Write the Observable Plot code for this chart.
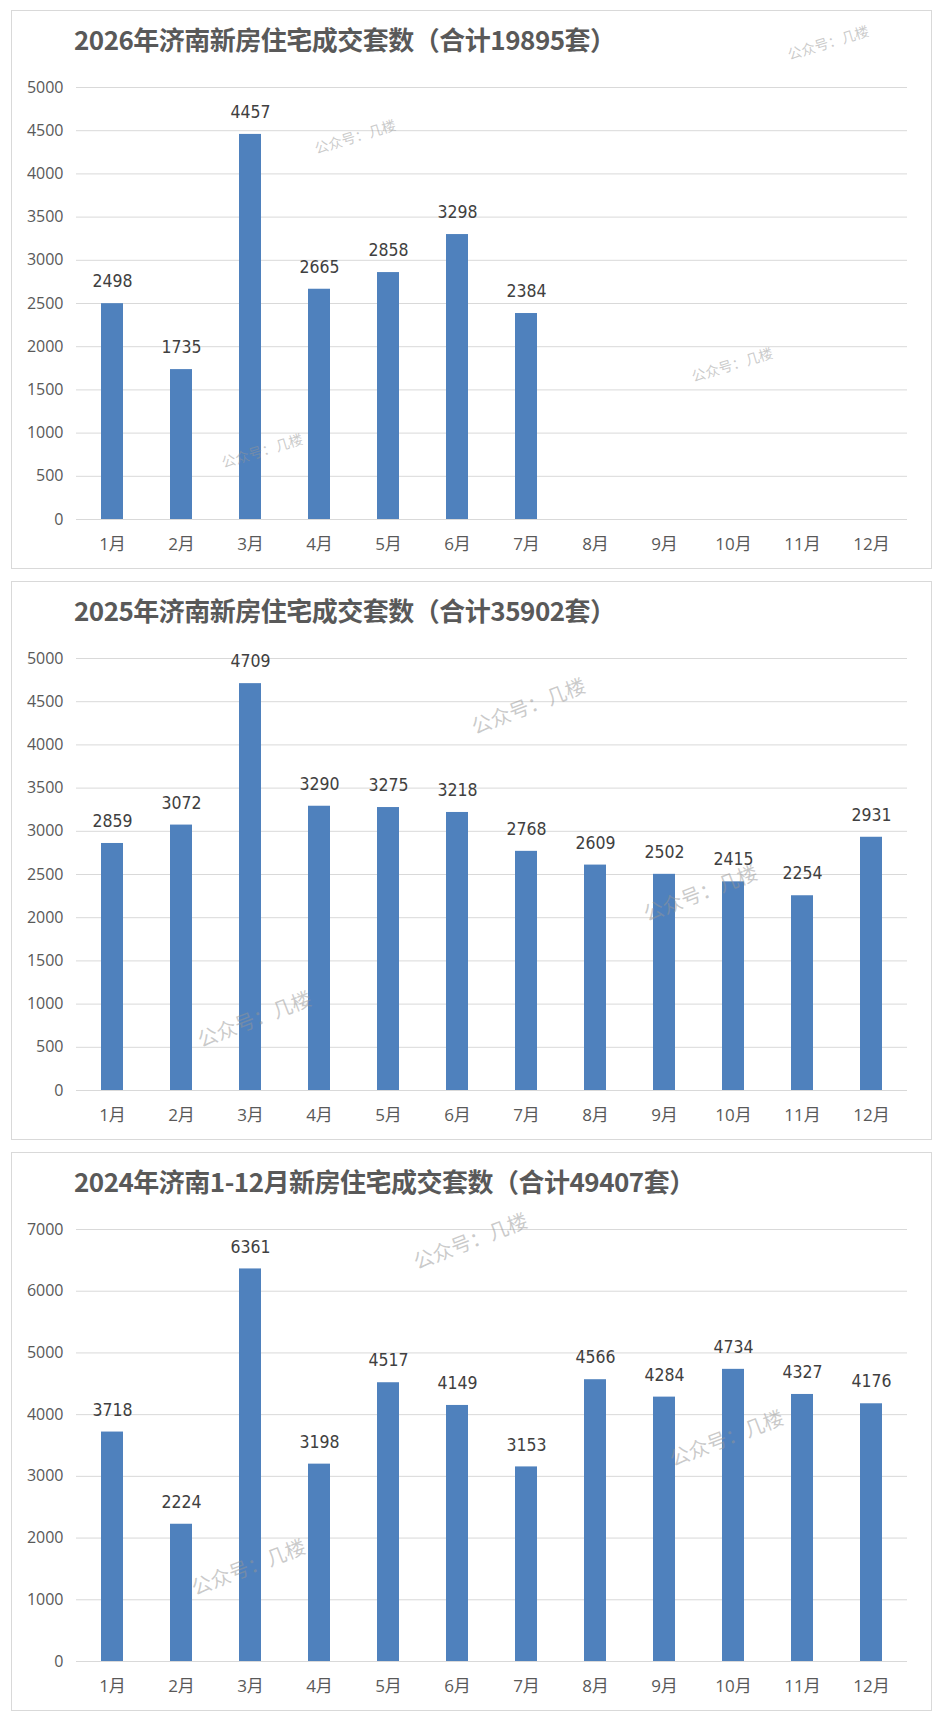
<!DOCTYPE html>
<html><head><meta charset="utf-8">
<script src="https://cdn.jsdelivr.net/npm/d3@7"></script>
<script src="https://cdn.jsdelivr.net/npm/@observablehq/plot@0.6"></script>
<style>
body{margin:0;background:#fff;width:942px;height:1724px;position:relative;overflow:hidden;font-family:"Noto Sans CJK SC",sans-serif}
.panel{position:absolute;left:11px;width:921px;height:559px;box-sizing:border-box;border:1px solid #d9d9d9;background:#fff}
.panel svg{position:absolute;left:0;top:0}
.title{position:absolute;left:62px;top:15px;font-size:26px;line-height:26px;font-weight:bold;color:#595959;white-space:nowrap;letter-spacing:-0.5px;z-index:2}
.wm{position:absolute;color:rgba(150,150,150,0.5);white-space:nowrap;z-index:5;font-family:"Noto Sans CJK SC",sans-serif}
</style>
</head><body>
<script>
const months = ["1月","2月","3月","4月","5月","6月","7月","8月","9月","10月","11月","12月"];
const values2026 = [2498,1735,4457,2665,2858,3298,2384];
const values2025 = [2859,3072,4709,3290,3275,3218,2768,2609,2502,2415,2254,2931];
const values2024 = [3718,2224,6361,3198,4517,4149,3153,4566,4284,4734,4327,4176];
const ticks5000 = [0,500,1000,1500,2000,2500,3000,3500,4000,4500,5000];
const ticks7000 = [0,1000,2000,3000,4000,5000,6000,7000];
const title2026 = "2026年济南新房住宅成交套数（合计19895套）";
const title2025 = "2025年济南新房住宅成交套数（合计35902套）";
const title2024 = "2024年济南1-12月新房住宅成交套数（合计49407套）";
const watermarkText = "公众号：几楼";
const watermarks = [
  [828,42,14,-17],[355,136,14,-17],[262,450,14,-17],[732,364,14,-17],
  [528,705,20,-21],[700,892,20,-21],[254,1018,20,-21],
  [470,1240,20,-21],[726,1437,20,-21],[248,1566,20,-21]
];

function panel(top, title, values, ticks, yMax) {
  const div = document.createElement("div");
  div.className = "panel";
  div.style.top = top + "px";
  const t = document.createElement("div");
  t.className = "title";
  t.textContent = title;
  div.appendChild(t);
  const data = values.map((v, i) => ({month: months[i], value: v}));
  const chart = Plot.plot({
    width: 919, height: 557,
    marginLeft: 64, marginRight: 24, marginTop: 76, marginBottom: 49,
    style: {background: "transparent", color: "#595959", fontFamily: "'Open Sans','Noto Sans CJK SC',sans-serif", overflow: "visible"},
    x: {domain: months, paddingInner: 0.68, paddingOuter: 0.34, label: null},
    y: {domain: [0, yMax], label: null},
    marks: [
      Plot.gridY(ticks, {stroke: "#d9d9d9", strokeOpacity: 1, strokeWidth: 1}),
      Plot.barY(data, {x: "month", y: "value", fill: "#4f81bd"}),
      Plot.text(data, {x: "month", y: "value", text: d => String(d.value), dy: -22, lineAnchor: "middle",
        fontSize: 17.5, fill: "#404040", fontFamily: "'Liberation Sans Narrow','DejaVu Sans Condensed',sans-serif"}),
      Plot.axisY(ticks, {tickSize: 0, tickPadding: 13, fontSize: 16, tickFormat: d => String(d), label: null}),
      Plot.axisX({tickSize: 0, tickPadding: 18, fontSize: 17, label: null})
    ]
  });
  div.appendChild(chart);
  document.body.appendChild(div);
}
panel(10, title2026, values2026, ticks5000, 5000);
panel(581, title2025, values2025, ticks5000, 5000);
panel(1152, title2024, values2024, ticks7000, 7000);

for (const [x, y, s, a] of watermarks) {
  const w = document.createElement("div");
  w.className = "wm";
  w.textContent = watermarkText;
  w.style.left = x + "px";
  w.style.top = y + "px";
  w.style.fontSize = s + "px";
  w.style.transform = `translate(-50%,-50%) rotate(${a}deg)`;
  document.body.appendChild(w);
}
</script>
</body></html>
